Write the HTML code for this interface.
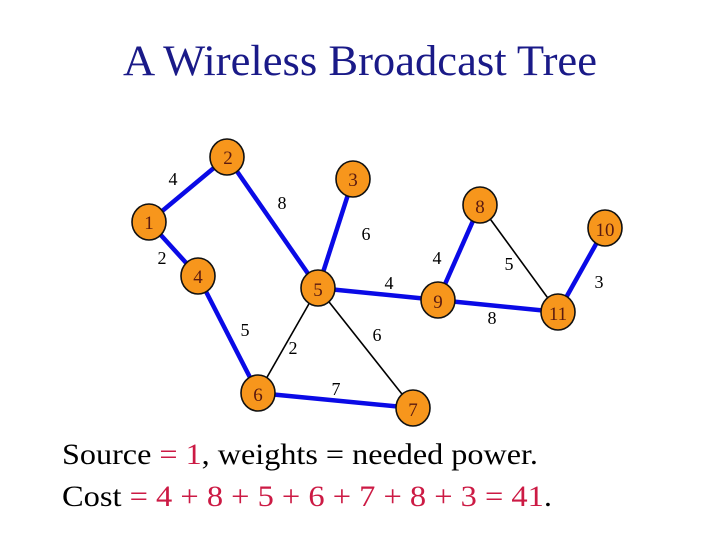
<!DOCTYPE html>
<html><head><meta charset="utf-8"><style>
html,body{margin:0;padding:0;background:#fff;}
svg{display:block;}
text{font-family:"Liberation Serif",serif;}
</style></head><body>
<svg width="720" height="540" viewBox="0 0 720 540" xmlns="http://www.w3.org/2000/svg">
<text x="360" y="75" text-anchor="middle" font-size="43" fill="#1a1a88" textLength="474" lengthAdjust="spacingAndGlyphs">A Wireless Broadcast Tree</text>
<g stroke="#000" stroke-width="1.6">
<line x1="318" y1="288" x2="258" y2="393"/>
<line x1="318" y1="288" x2="413" y2="408"/>
<line x1="480" y1="205" x2="558" y2="312"/>
</g>
<g stroke="#0a0ae6" stroke-width="4.5">
<line x1="149" y1="222" x2="227" y2="157"/>
<line x1="149" y1="222" x2="198" y2="276"/>
<line x1="227" y1="157" x2="318" y2="288"/>
<line x1="353" y1="179" x2="318" y2="288"/>
<line x1="198" y1="276" x2="258" y2="393"/>
<line x1="318" y1="288" x2="438" y2="300"/>
<line x1="438" y1="300" x2="480" y2="205"/>
<line x1="438" y1="300" x2="558" y2="312"/>
<line x1="558" y1="312" x2="605" y2="228"/>
<line x1="258" y1="393" x2="413" y2="408"/>
</g>
<g fill="#f7961c" stroke="#111" stroke-width="1.6">
<ellipse cx="227" cy="157" rx="17" ry="18"/>
<ellipse cx="353" cy="179" rx="17" ry="18"/>
<ellipse cx="149" cy="222" rx="17" ry="18"/>
<ellipse cx="480" cy="205" rx="17" ry="18"/>
<ellipse cx="605" cy="228" rx="17" ry="18"/>
<ellipse cx="198" cy="276" rx="17" ry="18"/>
<ellipse cx="318" cy="288" rx="17" ry="18"/>
<ellipse cx="438" cy="300" rx="17" ry="18"/>
<ellipse cx="558" cy="312" rx="17" ry="18"/>
<ellipse cx="258" cy="393" rx="17" ry="18"/>
<ellipse cx="413" cy="408" rx="17" ry="18"/>
</g>
<g font-size="19" fill="#5a1a10" text-anchor="middle">
<text x="228" y="164">2</text>
<text x="353" y="186">3</text>
<text x="149" y="229">1</text>
<text x="480" y="213">8</text>
<text x="605" y="236">10</text>
<text x="198" y="283">4</text>
<text x="318" y="296">5</text>
<text x="438" y="308">9</text>
<text x="558" y="320">11</text>
<text x="258" y="401">6</text>
<text x="413" y="416">7</text>
</g>
<g font-size="18" fill="#000" text-anchor="middle">
<text x="173" y="185">4</text>
<text x="282" y="209">8</text>
<text x="366" y="240">6</text>
<text x="162" y="264">2</text>
<text x="389" y="289">4</text>
<text x="437" y="264">4</text>
<text x="509" y="270">5</text>
<text x="599" y="288">3</text>
<text x="245" y="336">5</text>
<text x="293" y="354">2</text>
<text x="377" y="341">6</text>
<text x="492" y="324">8</text>
<text x="336" y="395">7</text>
</g>
<text x="62" y="464" font-size="30" fill="#000" textLength="476" lengthAdjust="spacingAndGlyphs">Source <tspan fill="#cc1a44">= 1</tspan>, weights = needed power.</text>
<text x="62" y="506" font-size="30" fill="#000" textLength="490" lengthAdjust="spacingAndGlyphs">Cost <tspan fill="#cc1a44">= 4 + 8 + 5 + 6 + 7 + 8 + 3 = 41</tspan>.</text>
</svg>
</body></html>
